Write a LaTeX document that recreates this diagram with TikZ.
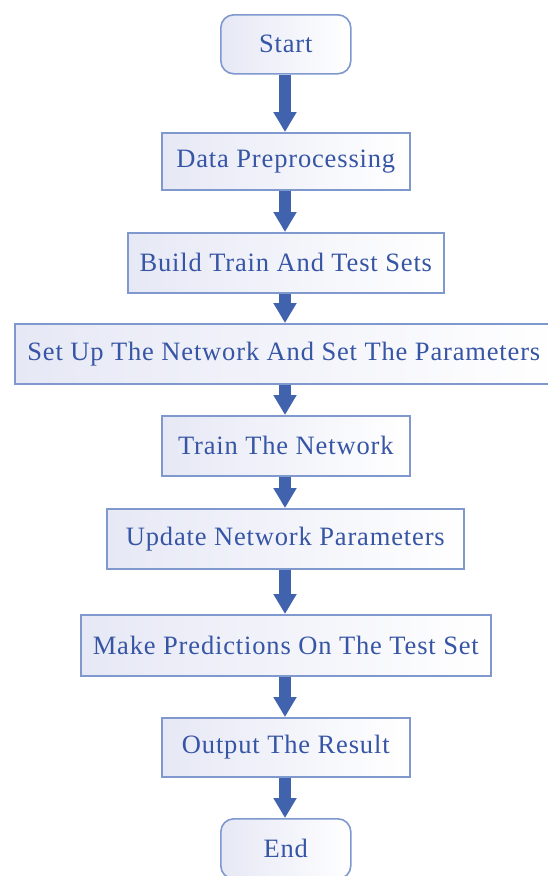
\documentclass[tikz,border=0pt]{standalone}
\usepackage{fontspec}
\setmainfont{Liberation Serif}[LetterSpace=3.2]
\usetikzlibrary{arrows.meta}
\definecolor{txtblue}{HTML}{3755A5}
\definecolor{edgeblue}{HTML}{7F98CE}
\definecolor{arrblue}{HTML}{4163AD}
\definecolor{lav}{HTML}{E6E8F5}
\tikzset{
  box/.style={draw=edgeblue, line width=1.6pt, left color=lav, right color=white,
    text=txtblue, font=\fontsize{26.5}{30}\selectfont, inner sep=0pt, anchor=north west},
  flowarrow/.style={draw=arrblue, line width=12pt, -{Triangle[width=22pt,length=20pt]}},
}
\begin{document}
\begin{tikzpicture}[x=1pt,y=-1pt]
\useasboundingbox (0,0) rectangle (547,876);
\node[box, rounded corners=13pt, minimum width=130pt, minimum height=59pt] (start) at (220,14) {Start};
\node[box, minimum width=248pt, minimum height=57pt] (prep) at (161,132) {Data Preprocessing};
\node[box, minimum width=316pt, minimum height=60pt] (build) at (127,232) {Build Train And Test Sets};
\node[box, minimum width=545pt, minimum height=60pt] (setup) at (14,323) {\hspace*{-7pt}Set Up The Network And Set The Parameters};
\node[box, minimum width=248pt, minimum height=60pt] (train) at (161,415) {Train The Network};
\node[box, minimum width=357pt, minimum height=60pt] (update) at (106,508) {Update Network Parameters};
\node[box, minimum width=410pt, minimum height=61pt] (pred) at (80,614) {Make Predictions On The Test Set};
\node[box, minimum width=248pt, minimum height=59pt] (out) at (161,717) {Output The Result};
\node[box, rounded corners=13pt, minimum width=130pt, minimum height=60pt] (end) at (220,818) {End};
\foreach \a/\b in {start/prep, prep/build, build/setup, setup/train, train/update, update/pred, pred/out, out/end}
  \draw[flowarrow] (\a.south -| 285,0) -- (\b.north -| 285,0);
\end{tikzpicture}
\end{document}
